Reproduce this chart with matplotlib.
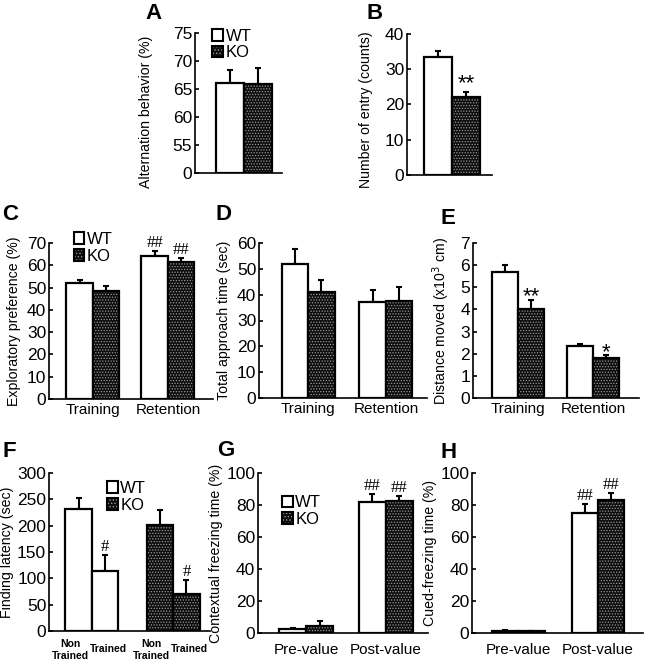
import matplotlib
matplotlib.use("Agg")
import matplotlib.pyplot as plt
from matplotlib.patches import Patch

plt.rcParams['font.family'] = ['Liberation Sans', 'DejaVu Sans']
plt.rcParams['axes.linewidth'] = 1.2
plt.rcParams['hatch.linewidth'] = 0.6

W, H = 646, 662
YLAB = 10.2

# ---- data ----
a_wt, a_wt_err = [66.1], [2.3]
a_ko, a_ko_err = [65.9], [2.8]
a_ticks = [50, 55, 60, 65, 70, 75]
a_ticklabels = ['0', '55', '60', '65', '70', '75']

b_wt, b_wt_err = [33.6], [1.6]
b_ko, b_ko_err = [22.0], [1.6]

groups_tr = ['Training', 'Retention']
c_wt, c_wt_err = [52.0, 64.3], [1.4, 2.0]
c_ko, c_ko_err = [48.3, 61.6], [2.5, 1.7]

d_wt, d_wt_err = [51.7, 37.0], [5.8, 4.8]
d_ko, d_ko_err = [41.0, 37.7], [4.6, 5.4]

e_wt, e_wt_err = [5.68, 2.34], [0.32, 0.12]
e_ko, e_ko_err = [4.02, 1.80], [0.41, 0.12]

f_conditions = ['Non\nTrained', 'Trained']
f_wt, f_wt_err = [232, 113], [21, 32]
f_ko, f_ko_err = [202, 70], [28, 26]

groups_pp = ['Pre-value', 'Post-value']
g_wt, g_wt_err = [2.3, 81.6], [0.8, 5.2]
g_ko, g_ko_err = [4.2, 82.6], [3.1, 3.2]

h_wt, h_wt_err = [1.5, 74.9], [0.5, 5.9]
h_ko, h_ko_err = [1.0, 83.3], [0.3, 4.1]

KO_FACE = '#0d0d0d'
KO_DOTS = '#9a9a9a'

fig = plt.figure(figsize=(W / 100, H / 100), dpi=100)


def make_ax(x0, x1, ytop, ybot):
    ax = fig.add_axes([x0 / W, 1 - ybot / H, (x1 - x0) / W, (ybot - ytop) / H])
    for s in ('top', 'right'):
        ax.spines[s].set_visible(False)
    ax.tick_params(axis='y', direction='in', length=3, width=1.2, labelsize=12.5, pad=2)
    ax.tick_params(axis='x', length=0, labelsize=11, pad=3)
    return ax


def bars(ax, xs, vals, errs, kind, bottom=0):
    heights = [v - bottom for v in vals]
    if kind == 'wt':
        ax.bar(xs, heights, 1.0, bottom=bottom, color='white', edgecolor='black',
               linewidth=1.6, zorder=2)
    else:
        ax.bar(xs, heights, 1.0, bottom=bottom, color=KO_FACE, edgecolor=KO_DOTS,
               hatch='......', linewidth=0, zorder=2)
        ax.bar(xs, heights, 1.0, bottom=bottom, fill=False, edgecolor='black',
               linewidth=1.6, zorder=3)
    ax.errorbar(xs, vals, yerr=[[0] * len(errs), errs], fmt='none', ecolor='black',
                elinewidth=1.5, capsize=2.5, capthick=1.5, zorder=1)


def legend(ax, bx, by):
    wt_h = Patch(facecolor='white', edgecolor='black', linewidth=1.5)
    ko_h = (Patch(facecolor=KO_FACE, edgecolor=KO_DOTS, hatch='.....', linewidth=0),
            Patch(fill=False, edgecolor='black', linewidth=1.5))
    ax.legend([wt_h, ko_h], ['WT', 'KO'], loc='upper left', bbox_to_anchor=(bx, by),
              frameon=False, fontsize=12, handlelength=0.65, handleheight=0.7,
              handletextpad=0.15, labelspacing=0.1, borderpad=0, borderaxespad=0)


def mark(ax, x, y, s, size=13, family=None):
    ax.text(x, y, s, ha='center', va='bottom', fontsize=size,
            family=family if family else ['Liberation Sans'])


def hashes(ax, x, y, s):
    mark(ax, x, y, s, size=12, family=['Liberation Serif'])


def panel_letter(x, y, s):
    fig.text(x / W, 1 - y / H, s, fontsize=16, fontweight='bold', va='top', ha='left')


# ---- A ----
ax = make_ax(195, 282, 33, 173)
bars(ax, [-0.5], a_wt, a_wt_err, 'wt', bottom=50)
bars(ax, [0.5], a_ko, a_ko_err, 'ko', bottom=50)
ax.set_ylim(50, 75)
ax.set_yticks(a_ticks)
ax.set_yticklabels(a_ticklabels)
ax.set_xlim(-1.75, 1.36)
ax.set_xticks([])
ax.set_ylabel('Alternation behavior (%)', fontsize=YLAB)
ax.yaxis.set_label_coords(-0.48, 0.44)
legend(ax, 0.2, 1.03)
panel_letter(145, 3, 'A')

# ---- B ----
ax = make_ax(407, 492, 34, 175)
bars(ax, [-0.5], b_wt, b_wt_err, 'wt')
bars(ax, [0.5], b_ko, b_ko_err, 'ko')
ax.set_ylim(0, 40)
ax.set_yticks([0, 10, 20, 30, 40])
ax.set_xlim(-1.61, 1.43)
ax.set_xticks([])
ax.set_ylabel('Number of entry (counts)', fontsize=YLAB)
ax.yaxis.set_label_coords(-0.4, 0.46)
mark(ax, 0.5, b_ko[0] + b_ko_err[0] - 0.8, '**', size=16)
panel_letter(366, 3, 'B')


def grouped(ax, sep, wt, wt_err, ko, ko_err, labels):
    centers = [i * sep for i in range(len(wt))]
    bars(ax, [c - 0.5 for c in centers], wt, wt_err, 'wt')
    bars(ax, [c + 0.5 for c in centers], ko, ko_err, 'ko')
    ax.set_xticks(centers)
    ax.set_xticklabels(labels)
    return centers


# ---- C ----
ax = make_ax(49, 213, 243, 399)
cc = grouped(ax, 2.83, c_wt, c_wt_err, c_ko, c_ko_err, groups_tr)
ax.set_ylim(0, 70)
ax.set_yticks(range(0, 71, 10))
ax.set_xlim(-1.66, 4.53)
ax.set_ylabel('Exploratory preference (%)', fontsize=YLAB, labelpad=4)
legend(ax, 0.15, 1.07)
hashes(ax, cc[1] - 0.5, c_wt[1] + c_wt_err[1], '##')
hashes(ax, cc[1] + 0.5, c_ko[1] + c_ko_err[1], '##')
panel_letter(2, 204, 'C')

# ---- D ----
ax = make_ax(259, 427, 243, 398)
grouped(ax, 2.94, d_wt, d_wt_err, d_ko, d_ko_err, groups_tr)
ax.set_ylim(0, 60)
ax.set_yticks(range(0, 61, 10))
ax.set_xlim(-1.85, 4.49)
ax.set_ylabel('Total approach time (sec)', fontsize=YLAB, labelpad=4)
panel_letter(216, 204, 'D')

# ---- E ----
ax = make_ax(473, 639, 243, 398)
ce = grouped(ax, 2.88, e_wt, e_wt_err, e_ko, e_ko_err, groups_tr)
ax.set_ylim(0, 7)
ax.set_yticks(range(0, 8))
ax.set_xlim(-1.73, 4.65)
ax.set_ylabel('Distance moved (x10$^3$ cm)', fontsize=YLAB, labelpad=6)
mark(ax, ce[0] + 0.5, e_ko[0] + e_ko_err[0] - 0.35, '**', size=16)
mark(ax, ce[1] + 0.5, e_ko[1] + e_ko_err[1] - 0.35, '*', size=16)
panel_letter(441, 208, 'E')

# ---- F ----
ax = make_ax(49, 210, 473, 631)
f_sep = 3.06
f_wt_x = [-0.5, 0.5]
f_ko_x = [f_sep - 0.5, f_sep + 0.5]
bars(ax, f_wt_x, f_wt, f_wt_err, 'wt')
bars(ax, f_ko_x, f_ko, f_ko_err, 'ko')
ax.set_ylim(0, 300)
ax.set_yticks(range(0, 301, 50))
ax.set_xlim(-1.62, 4.45)
ax.set_xticks([])
for x, lab in zip(f_wt_x + f_ko_x, f_conditions * 2):
    if '\n' in lab:
        ax.annotate(lab, (x, 0), xycoords=ax.get_xaxis_transform(), xytext=(-6, -6),
                    textcoords='offset points', ha='center', va='top',
                    fontsize=7.5, fontweight='bold', linespacing=1.25)
    else:
        ax.annotate(lab, (x, 0), xycoords=ax.get_xaxis_transform(), xytext=(2.5, -13),
                    textcoords='offset points', ha='center', va='center',
                    fontsize=7.5, fontweight='bold')
ax.set_ylabel('Finding latency (sec)', fontsize=YLAB, labelpad=2)
legend(ax, 0.36, 0.95)
hashes(ax, f_wt_x[1], f_wt[1] + f_wt_err[1], '#')
hashes(ax, f_ko_x[1], f_ko[1] + f_ko_err[1], '#')
panel_letter(2, 441, 'F')

# ---- G ----
ax = make_ax(258, 428, 473, 633)
cg = grouped(ax, 2.96, g_wt, g_wt_err, g_ko, g_ko_err, groups_pp)
ax.set_ylim(0, 100)
ax.set_yticks(range(0, 101, 20))
ax.set_xlim(-1.78, 4.52)
ax.tick_params(axis='x', pad=7)
ax.set_ylabel('Contextual freezing time (%)', fontsize=YLAB, labelpad=2)
legend(ax, 0.14, 0.86)
hashes(ax, cg[1] - 0.5, g_wt[1] + g_wt_err[1], '##')
hashes(ax, cg[1] + 0.5, g_ko[1] + g_ko_err[1], '##')
panel_letter(217, 440, 'G')

# ---- H ----
ax = make_ax(472, 643, 473, 633)
ch = grouped(ax, 3.02, h_wt, h_wt_err, h_ko, h_ko_err, groups_pp)
ax.set_ylim(0, 100)
ax.set_yticks(range(0, 101, 20))
ax.set_xlim(-1.74, 4.72)
ax.tick_params(axis='x', pad=7)
ax.set_ylabel('Cued-freezing time (%)', fontsize=YLAB, labelpad=2)
hashes(ax, ch[1] - 0.5, h_wt[1] + h_wt_err[1], '##')
hashes(ax, ch[1] + 0.5, h_ko[1] + h_ko_err[1], '##')
panel_letter(441, 442, 'H')

fig.savefig('out.png', dpi=100, facecolor='white')
